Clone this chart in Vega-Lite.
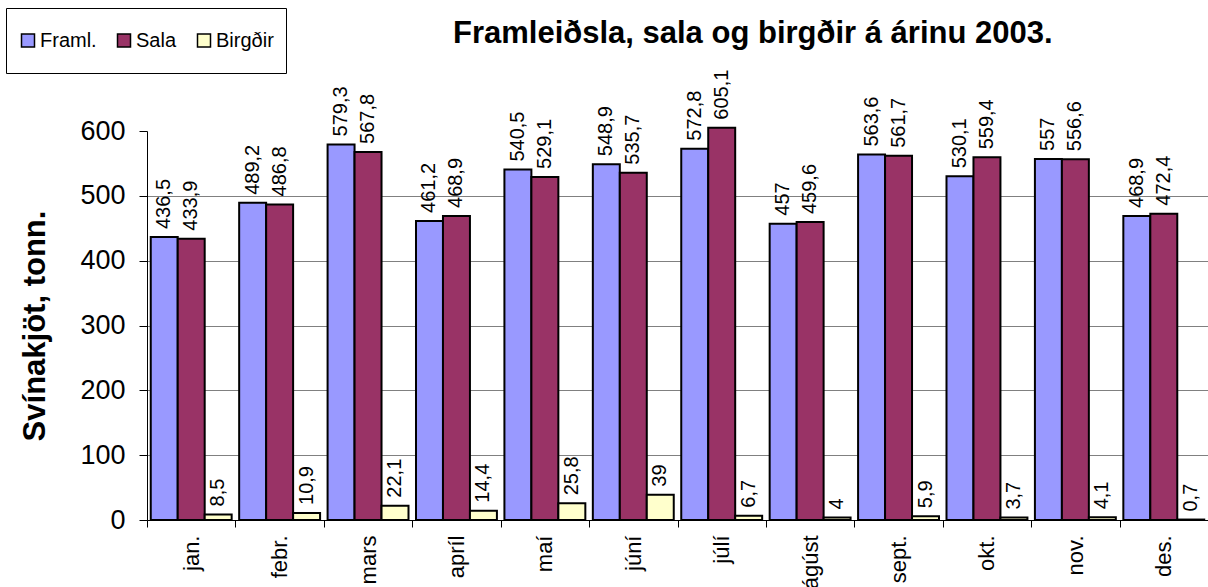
{
  "$schema": "https://vega.github.io/schema/vega-lite/v6.json",
  "width": 1061,
  "height": 389,
  "autosize": {"type": "none"},
  "padding": {"left": 147, "top": 131, "right": 0, "bottom": 67},
  "background": "white",
  "title": {
    "text": "Framleiðsla, sala og birgðir á árinu 2003.",
    "anchor": "start",
    "frame": "group",
    "dx": 306,
    "offset": -66,
    "baseline": "alphabetic",
    "fontSize": 31,
    "fontWeight": "bold",
    "font": "Liberation Sans",
    "color": "black"
  },
  "data": {
    "values": [
      {"month": "jan.", "series": "Framl.", "value": 436.5},
      {"month": "jan.", "series": "Sala", "value": 433.9},
      {"month": "jan.", "series": "Birgðir", "value": 8.5},
      {"month": "febr.", "series": "Framl.", "value": 489.2},
      {"month": "febr.", "series": "Sala", "value": 486.8},
      {"month": "febr.", "series": "Birgðir", "value": 10.9},
      {"month": "mars", "series": "Framl.", "value": 579.3},
      {"month": "mars", "series": "Sala", "value": 567.8},
      {"month": "mars", "series": "Birgðir", "value": 22.1},
      {"month": "apríl", "series": "Framl.", "value": 461.2},
      {"month": "apríl", "series": "Sala", "value": 468.9},
      {"month": "apríl", "series": "Birgðir", "value": 14.4},
      {"month": "maí", "series": "Framl.", "value": 540.5},
      {"month": "maí", "series": "Sala", "value": 529.1},
      {"month": "maí", "series": "Birgðir", "value": 25.8},
      {"month": "júní", "series": "Framl.", "value": 548.9},
      {"month": "júní", "series": "Sala", "value": 535.7},
      {"month": "júní", "series": "Birgðir", "value": 39},
      {"month": "júlí", "series": "Framl.", "value": 572.8},
      {"month": "júlí", "series": "Sala", "value": 605.1},
      {"month": "júlí", "series": "Birgðir", "value": 6.7},
      {"month": "ágúst", "series": "Framl.", "value": 457},
      {"month": "ágúst", "series": "Sala", "value": 459.6},
      {"month": "ágúst", "series": "Birgðir", "value": 4},
      {"month": "sept.", "series": "Framl.", "value": 563.6},
      {"month": "sept.", "series": "Sala", "value": 561.7},
      {"month": "sept.", "series": "Birgðir", "value": 5.9},
      {"month": "okt.", "series": "Framl.", "value": 530.1},
      {"month": "okt.", "series": "Sala", "value": 559.4},
      {"month": "okt.", "series": "Birgðir", "value": 3.7},
      {"month": "nov.", "series": "Framl.", "value": 557},
      {"month": "nov.", "series": "Sala", "value": 556.6},
      {"month": "nov.", "series": "Birgðir", "value": 4.1},
      {"month": "des.", "series": "Framl.", "value": 468.9},
      {"month": "des.", "series": "Sala", "value": 472.4},
      {"month": "des.", "series": "Birgðir", "value": 0.7}
    ]
  },
  "transform": [
    {"calculate": "replace(toString(datum.value), '.', ',')", "as": "label"}
  ],
  "encoding": {
    "x": {
      "field": "month",
      "type": "nominal",
      "sort": null,
      "scale": {"paddingInner": 0, "paddingOuter": 0},
      "axis": {
        "title": null,
        "labelAngle": 270,
        "labelFont": "Liberation Sans",
        "labelFontSize": 22,
        "labelColor": "black",
        "labelPadding": 8,
        "tickSize": 7,
        "tickBand": "extent",
        "tickColor": "black",
        "domainColor": "black",
        "grid": false
      }
    },
    "xOffset": {
      "field": "series",
      "type": "nominal",
      "sort": ["Framl.", "Sala", "Birgðir"],
      "scale": {"paddingInner": 0, "paddingOuter": 0.139}
    },
    "y": {
      "field": "value",
      "type": "quantitative",
      "scale": {"domain": [0, 600], "nice": false},
      "axis": {
        "values": [0, 100, 200, 300, 400, 500, 600],
        "title": "Svínakjöt, tonn.",
        "titleFont": "Liberation Sans",
        "titleFontSize": 31,
        "titleFontWeight": "bold",
        "titleColor": "black",
        "titlePadding": 28,
        "labelFont": "Liberation Sans",
        "labelFontSize": 27,
        "labelColor": "black",
        "labelPadding": 14,
        "tickSize": 8,
        "tickColor": "black",
        "domainColor": "black",
        "grid": true,
        "gridColor": "#808080",
        "gridOpacity": {"condition": {"test": "datum.value <= 0 || datum.value >= 600", "value": 0}, "value": 1}
      }
    }
  },
  "layer": [
    {
      "mark": {"type": "bar", "stroke": "black", "strokeWidth": 2},
      "encoding": {
        "color": {
          "field": "series",
          "type": "nominal",
          "scale": {"domain": ["Framl.", "Sala", "Birgðir"], "range": ["#9999FF", "#993366", "#FFFFCC"]},
          "legend": {
            "title": null,
            "orient": "none",
            "legendX": -141,
            "legendY": -123,
            "direction": "horizontal",
            "fillColor": "white",
            "strokeColor": "black",
            "padding": 12,
            "clipHeight": 41,
            "symbolType": "square",
            "symbolSize": 169,
            "symbolStrokeColor": "black",
            "symbolStrokeWidth": 1.5,
            "symbolOpacity": 1,
            "labelFont": "Liberation Sans",
            "labelFontSize": 20,
            "labelColor": "black",
            "labelOffset": 2,
            "columnPadding": 17
          }
        }
      }
    },
    {
      "mark": {"type": "text", "angle": 270, "align": "left", "baseline": "middle", "dx": 8, "font": "Liberation Sans", "fontSize": 20, "color": "black"},
      "encoding": {"text": {"field": "label"}}
    }
  ],
  "config": {"view": {"stroke": null}}
}
